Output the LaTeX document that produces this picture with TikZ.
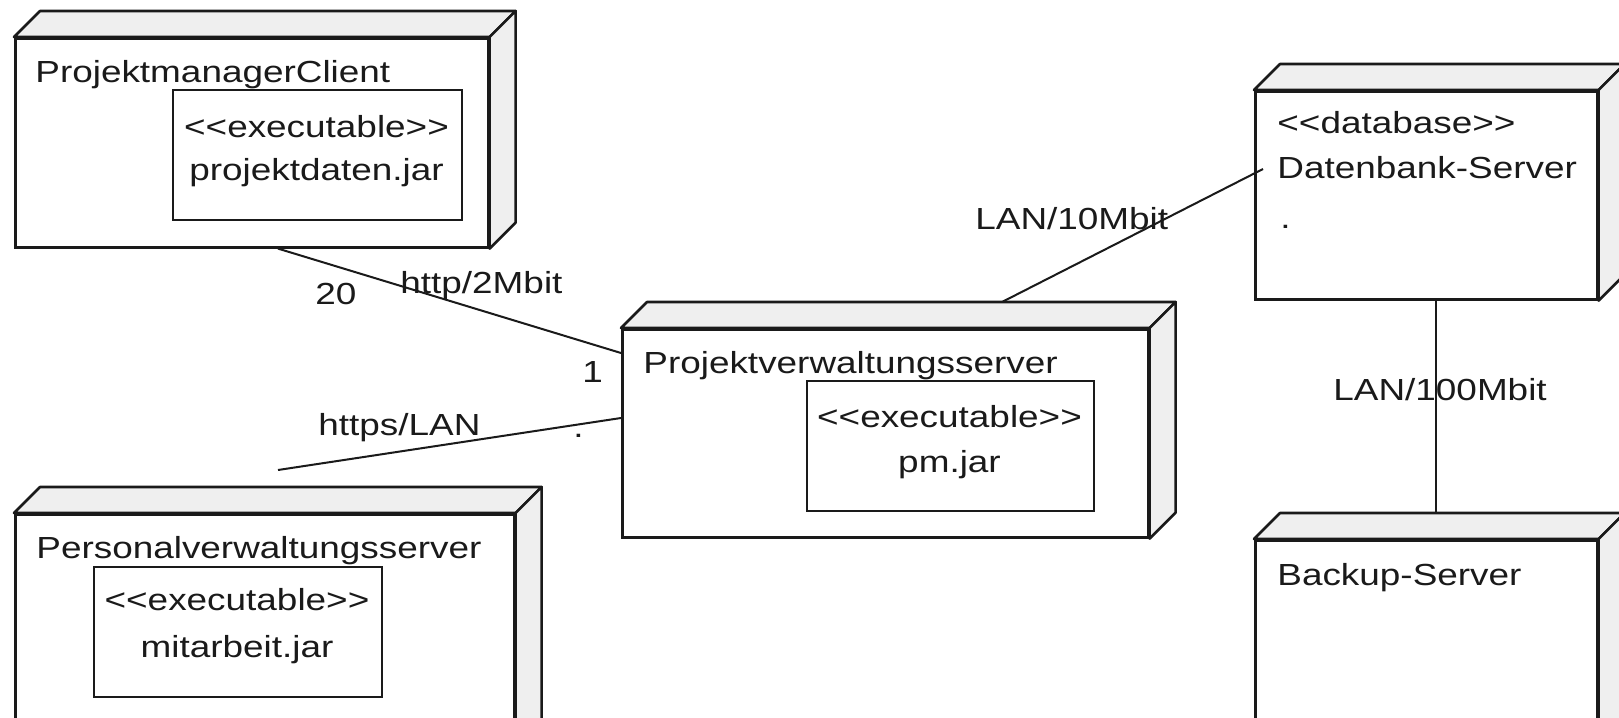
\documentclass[tikz,border=0pt]{standalone}
\usepackage{fontspec}
\newfontfamily\umlfont{Liberation Sans}[FakeStretch=1.21]
\definecolor{linec}{HTML}{1A1A1A}
\definecolor{facec}{HTML}{EFEFEF}
\definecolor{textc}{HTML}{1A1A1A}
\begin{document}
\begin{tikzpicture}[x=0.5pt,y=-0.5pt,
  box/.style={draw=linec, line width=1.3pt, fill=white, inner sep=0pt, anchor=north west},
  face/.style={draw=linec, line width=1.3pt, fill=facec, line join=round},
  inbox/.style={draw=linec, line width=1.1pt, fill=white, inner sep=0pt, anchor=north west},
  lbl/.style={inner sep=0pt, anchor=base west, font=\umlfont\fontsize{15.25pt}{18pt}\selectfont, text=textc},
  clbl/.style={lbl, anchor=base},
  conn/.style={draw=linec, line width=1pt}]
\path[use as bounding box] (0,0) rectangle (1619,718);
\clip (0,0) rectangle (1619,718);
\fill[white] (0,0) rectangle (1619,718);

% 3D node faces
\newcommand{\umlfaces}[1]{%
  \filldraw[face] (#1.north west) -- ++(26,-26) -- ([shift={(26,-26)}]#1.north east) -- (#1.north east) -- cycle;
  \filldraw[face] (#1.north east) -- ([shift={(26,-26)}]#1.north east) -- ([shift={(26,-26)}]#1.south east) -- (#1.south east) -- cycle;
}

% ProjektmanagerClient
\node[box, minimum width=236.5pt, minimum height=104.5pt] (pmc) at (14,37) {};
\umlfaces{pmc}
\node[inbox, minimum width=144.5pt, minimum height=65pt] (pmcx) at (172,89) {};
\node[lbl] (pmct) at (35,82) {ProjektmanagerClient};
\node[clbl] (pmcs) at (316.5,137) {<<executable>>};
\node[clbl] (pmcj) at (316.5,180) {projektdaten.jar};

% Projektverwaltungsserver
\node[box, minimum width=263pt, minimum height=104pt] (pvs) at (621,328) {};
\umlfaces{pvs}
\node[inbox, minimum width=143.5pt, minimum height=65pt] (pvsx) at (806,380) {};
\node[lbl] (pvst) at (643,373) {Projektverwaltungsserver};
\node[clbl] (pvss) at (949.5,427) {<<executable>>};
\node[clbl] (pvsj) at (949.5,472) {pm.jar};

% Datenbank-Server
\node[box, minimum width=171pt, minimum height=104pt] (db) at (1254,90) {};
\umlfaces{db}
\node[lbl] (dbs) at (1277,133) {<<database>>};
\node[lbl] (dbt) at (1277,178) {Datenbank-Server};
\node[lbl] (dbd) at (1280,228) {.};

% Backup-Server
\node[box, minimum width=171pt, minimum height=120.5pt] (bk) at (1254,539) {};
\umlfaces{bk}
\node[lbl] (bkt) at (1277,585) {Backup-Server};

% Personalverwaltungsserver
\node[box, minimum width=249.5pt, minimum height=133.5pt] (pers) at (14,513) {};
\umlfaces{pers}
\node[inbox, minimum width=144pt, minimum height=65pt] (persx) at (93,566) {};
\node[lbl] (perst) at (36,558) {Personalverwaltungsserver};
\node[clbl] (perss) at (237,610) {<<executable>>};
\node[clbl] (persj) at (237,657) {mitarbeit.jar};

% connectors
\coordinate (hend) at (278,470);
\draw[conn] ([xshift=132pt]pmc.south west) -- ([yshift=-12.5pt]pvs.north west);
\draw[conn] ([yshift=-45pt]pvs.north west) -- (hend);
\draw[conn] ([xshift=190.5pt,yshift=13pt]pvs.north west) -- ([xshift=4.5pt,yshift=-39.5pt]db.north west);
\draw[conn] ([xshift=91pt]db.south west) -- ([xshift=91pt,yshift=13pt]bk.north west);

% connector labels
\node[lbl] (m20) at (315,304) {20};
\node[lbl] (http) at (400,293) {http/2Mbit};
\node[lbl] (m1) at (582,382) {1};
\node[lbl] (https) at (318,435) {https/LAN};
\node[lbl] (hdot) at (573,437) {.};
\node[lbl] (lan10) at (975,229) {LAN/10Mbit};
\node[lbl] (lan100) at (1333,400) {LAN/100Mbit};
\end{tikzpicture}
\end{document}
